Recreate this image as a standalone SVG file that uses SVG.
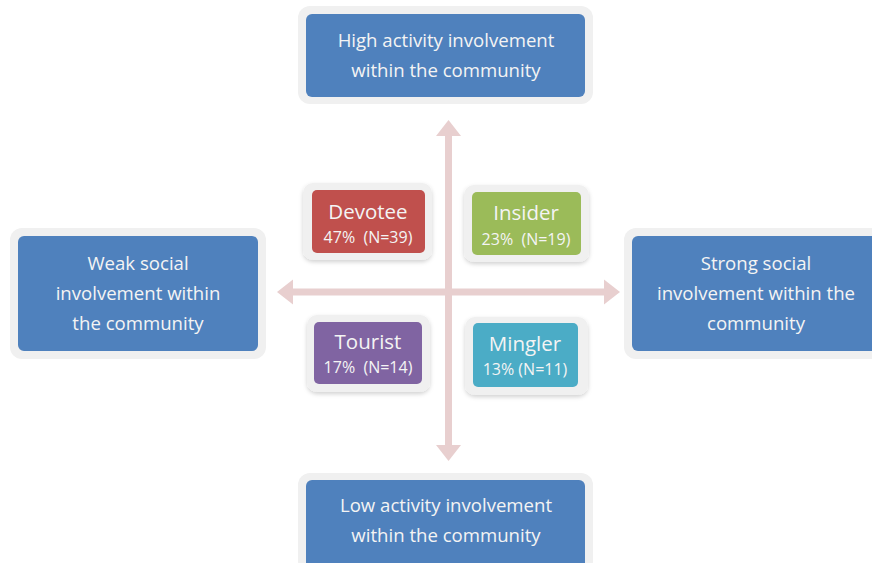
<svg xmlns="http://www.w3.org/2000/svg" width="872" height="563" viewBox="0 0 872 563">
<defs>
<filter id="sh" x="-10%" y="-10%" width="120%" height="130%">
<feDropShadow dx="0" dy="2" stdDeviation="2" flood-color="#000" flood-opacity="0.18"/>
</filter>
</defs>
<style>
.frame{fill:#F0F0F0;}
.blue{fill:#4F81BD;}
.t{font-family:"Open Sans","Liberation Sans",sans-serif;fill:#F4F4F4;text-anchor:middle;white-space:pre;}
.big{font-size:18.6px;}
.q1{font-size:20.5px;}
.q2{font-size:16px;}
.ax{fill:#E8CFCF;}
</style>
<rect width="872" height="563" fill="#fff"/>
<g id="connectors">
<rect class="ax" x="445" y="133" width="7" height="315"/>
<polygon class="ax" points="448.5,120 461,136 436,136"/>
<polygon class="ax" points="448.5,461 461,445 436,445"/>
<rect class="ax" x="290" y="288.5" width="316" height="7"/>
<polygon class="ax" points="277,292 293,279.5 293,304.5"/>
<polygon class="ax" points="620,292 604,279.5 604,304.5"/>
</g>
<g id="high">
<rect class="frame" x="298" y="6" width="295" height="98" rx="12"/>
<rect class="blue" x="306" y="14" width="279" height="83" rx="6"/>
<text class="t big" x="446" y="47">High activity involvement</text>
<text class="t big" x="446" y="77">within the community</text>
</g>
<g id="low">
<rect class="frame" x="298" y="473" width="295" height="100" rx="12"/>
<rect class="blue" x="306" y="480" width="279" height="90" rx="6"/>
<text class="t big" x="446" y="512">Low activity involvement</text>
<text class="t big" x="446" y="542">within the community</text>
</g>
<g id="weak">
<rect class="frame" x="10" y="228" width="256" height="131" rx="12"/>
<rect class="blue" x="18" y="236" width="240" height="115" rx="6"/>
<text class="t big" x="138" y="270">Weak social</text>
<text class="t big" x="138" y="300">involvement within</text>
<text class="t big" x="138" y="330">the community</text>
</g>
<g id="strong">
<rect class="frame" x="624" y="228" width="260" height="131" rx="12"/>
<rect class="blue" x="632" y="236" width="250" height="115" rx="6"/>
<text class="t big" x="756" y="270">Strong social</text>
<text class="t big" x="756" y="300">involvement within the</text>
<text class="t big" x="756" y="330">community</text>
</g>
<g id="devotee">
<rect class="frame" x="303" y="183" width="129" height="77" rx="10" filter="url(#sh)"/>
<rect x="312" y="190" width="113" height="63" rx="5" fill="#C0504D"/>
<text class="t q1" x="368" y="219">Devotee</text>
<text class="t q2" x="368" y="243">47%  (N=39)</text>
</g>
<g id="insider">
<rect class="frame" x="464" y="185" width="125" height="77" rx="10" filter="url(#sh)"/>
<rect x="472" y="192" width="109" height="63" rx="5" fill="#9BBB59"/>
<text class="t q1" x="526" y="220">Insider</text>
<text class="t q2" x="526" y="245">23%  (N=19)</text>
</g>
<g id="tourist">
<rect class="frame" x="307" y="315" width="123" height="77" rx="10" filter="url(#sh)"/>
<rect x="314" y="322" width="108" height="62" rx="5" fill="#8064A2"/>
<text class="t q1" x="368" y="349">Tourist</text>
<text class="t q2" x="368" y="373">17%  (N=14)</text>
</g>
<g id="mingler">
<rect class="frame" x="465" y="317" width="123" height="78" rx="10" filter="url(#sh)"/>
<rect x="473" y="323" width="105" height="64" rx="5" fill="#4BACC6"/>
<text class="t q1" x="525" y="351">Mingler</text>
<text class="t q2" x="525" y="375">13% (N=11)</text>
</g>
</svg>
